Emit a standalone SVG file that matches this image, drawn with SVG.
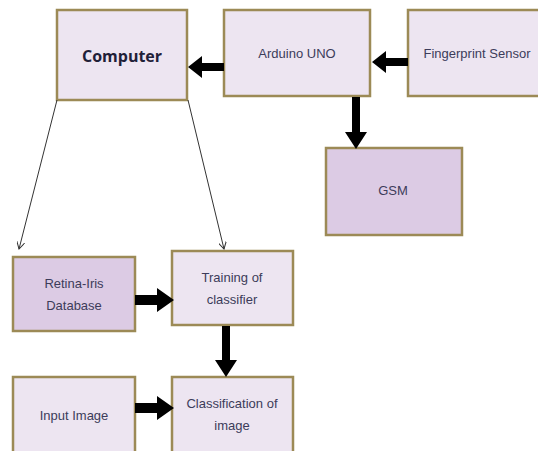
<svg xmlns="http://www.w3.org/2000/svg" width="538" height="451" viewBox="0 0 538 451">
<defs>
<style>
.box{fill:#ede5f1;stroke:#9c8a56;stroke-width:2.5}
.dark{fill:#dccbe4}
.t{font-family:"Liberation Sans",Arial,sans-serif;font-size:13px;fill:#3c3c5a;text-anchor:middle}
.big{font-family:"Open Sans","Liberation Sans",sans-serif;font-size:16px;font-weight:bold;fill:#1f2038;text-anchor:middle}
.thin{stroke:#333;stroke-width:1;fill:none}
.thick{fill:#000}
</style>
<marker id="ah" markerWidth="8" markerHeight="8" refX="7" refY="4" orient="auto" markerUnits="userSpaceOnUse">
<path d="M0,0 L7,4 L0,8" fill="none" stroke="#333" stroke-width="1"/>
</marker>
</defs>
<rect width="538" height="451" fill="#fff"/>
<g id="computer"><rect class="box" x="57" y="10" width="130" height="90"/><text class="big" x="122" y="62">Computer</text></g>
<g id="arduino"><rect class="box" x="224" y="10" width="146" height="86"/><text class="t" x="297" y="58">Arduino UNO</text></g>
<g id="fingerprint"><rect class="box" x="408" y="10" width="134" height="86"/><text class="t" x="477" y="58">Fingerprint Sensor</text></g>
<g id="gsm"><rect class="box dark" x="326" y="148" width="136" height="87"/><text class="t" x="393" y="195">GSM</text></g>
<g id="retina"><rect class="box dark" x="13" y="257" width="122" height="74"/><text class="t" x="74" y="288">Retina-Iris</text><text class="t" x="74" y="310">Database</text></g>
<g id="training"><rect class="box" x="172" y="251" width="121" height="74"/><text class="t" x="232" y="282">Training of</text><text class="t" x="232" y="304">classifier</text></g>
<g id="input"><rect class="box" x="13" y="377" width="122" height="80"/><text class="t" x="74" y="420">Input Image</text></g>
<g id="classification"><rect class="box" x="172" y="377" width="121" height="80"/><text class="t" x="232" y="408">Classification of</text><text class="t" x="232" y="430">image</text></g>
<g id="connectors">
<line class="thin" x1="57" y1="100" x2="19" y2="249" marker-end="url(#ah)"/>
<line class="thin" x1="188" y1="100" x2="224" y2="249" marker-end="url(#ah)"/>
<path class="thick" d="M224,63 L202,63 L202,56 L188,67 L202,78 L202,71 L224,71 Z"/>
<path class="thick" d="M408,58 L386,58 L386,51 L372,62 L386,73 L386,66 L408,66 Z"/>
<path class="thick" d="M352,97 L352,132 L345,132 L356,149 L367,132 L360,132 L360,97 Z"/>
<path class="thick" d="M135,295 L157,295 L157,288 L174,300 L157,312 L157,305 L135,305 Z"/>
<path class="thick" d="M222,326 L222,360 L215,360 L226,377 L237,360 L230,360 L230,326 Z"/>
<path class="thick" d="M135,403 L157,403 L157,396 L174,408 L157,420 L157,413 L135,413 Z"/>
</g>
</svg>
